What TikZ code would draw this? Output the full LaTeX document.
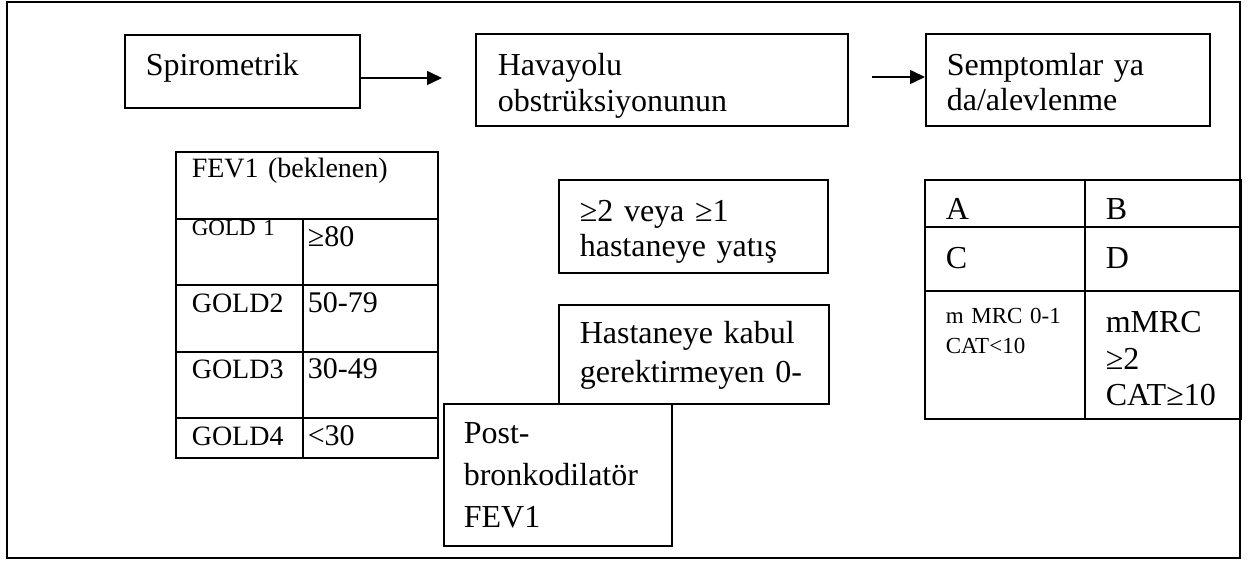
\documentclass[tikz,border=0pt]{standalone}
\usepackage{fontspec}
\setmainfont{Liberation Serif}
\usetikzlibrary{arrows.meta}

\tikzset{
  box/.style n args={4}{draw, line width=1.6pt, anchor=north west, align=left,
    inner ysep=0pt, inner xsep=#1, text width=#2, text height=#3, text depth=#4},
  big/.style={font=\fontsize{32}{35}\selectfont},
  mid/.style={font=\fontsize{28}{32}\selectfont},
  val/.style={font=\fontsize{30}{34}\selectfont},
  small/.style={font=\fontsize{23}{30}\selectfont},
  arr/.style={line width=1.6pt, -{Triangle[length=15pt,width=14pt]}}
}

\begin{document}
\begin{tikzpicture}[x=1pt, y=-1pt]

  \useasboundingbox (0,0) rectangle (1254,561);
  \draw[line width=1.6pt] (7,2) rectangle (1240,558);

  % Ust sira: akis kutulari
  \node[box={21pt}{193pt}{41pt}{32pt}, big] (spiro) at (124,34) {Spirometrik};
  \node[box={22pt}{328pt}{42pt}{50pt}, font=\fontsize{32}{36}\selectfont] (havayolu) at (475,33)
    {Havayolu\\obstrüksiyonunun};
  \node[box={21pt}{242pt}{42pt}{50pt}, big] (semptom) at (925,33)
    {Semptomlar ya\\da/alevlenme};

  \coordinate (a1) at (442,78);
  \coordinate (a2) at (872,77);
  \draw[arr] (spiro.east |- a1) -- (a1);
  \draw[arr] (a2) -- (semptom.west |- a2);

  % FEV1 tablosu
  \node[box={16pt}{230pt}{26pt}{41pt}, mid] (fev) at (175,151) {FEV1 (beklenen)};
  \node[box={16pt}{95pt}{17pt}{49pt}, small] (g1) at (175,218) {GOLD 1};
  \node[box={5pt}{125pt}{28pt}{38pt}, val] (g1v) at (302,218) {≥80};
  \node[box={16pt}{95pt}{28pt}{39pt}, mid] (g2) at (175,284) {GOLD2};
  \node[box={5pt}{125pt}{28pt}{39pt}, val] (g2v) at (302,284) {50-79};
  \node[box={16pt}{95pt}{27pt}{39pt}, mid] (g3) at (175,351) {GOLD3};
  \node[box={5pt}{125pt}{27pt}{39pt}, val] (g3v) at (302,351) {30-49};
  \node[box={16pt}{95pt}{28pt}{12pt}, mid] (g4) at (175,417) {GOLD4};
  \node[box={5pt}{125pt}{28pt}{12pt}, val] (g4v) at (302,417) {<30};

  % Orta kutular
  \node[box={21pt}{227pt}{42pt}{51pt}, big] (yatis) at (558,179)
    {≥2 veya ≥1\\hastaneye yatış};
  \node[box={21pt}{228pt}{39pt}{60pt}, font=\fontsize{32}{39}\selectfont] (kabul) at (558,304)
    {Hastaneye kabul\\gerektirmeyen 0-};
  \node[box={20pt}{188pt}{40pt}{102pt}, font=\fontsize{32}{42}\selectfont] (post) at (443,403)
    {Post-\\bronkodilatör\\FEV1};

  % ABCD tablosu
  \node[box={21pt}{118pt}{40pt}{7pt}, big] (gA) at (924,179) {A};
  \node[box={21pt}{114pt}{40pt}{7pt}, big] (gB) at (1084,179) {B};
  \node[box={21pt}{118pt}{42pt}{22pt}, big] (gC) at (924,226) {C};
  \node[box={21pt}{114pt}{42pt}{22pt}, big] (gD) at (1084,226) {D};
  \node[box={21pt}{118pt}{33pt}{95pt}, small] (mA) at (924,290) {m MRC 0-1\\CAT<10};
  \node[box={21pt}{114pt}{42pt}{86pt}, font=\fontsize{32}{36.5}\selectfont] (mB) at (1084,290)
    {mMRC\\≥2\\CAT≥10};

\end{tikzpicture}
\end{document}
